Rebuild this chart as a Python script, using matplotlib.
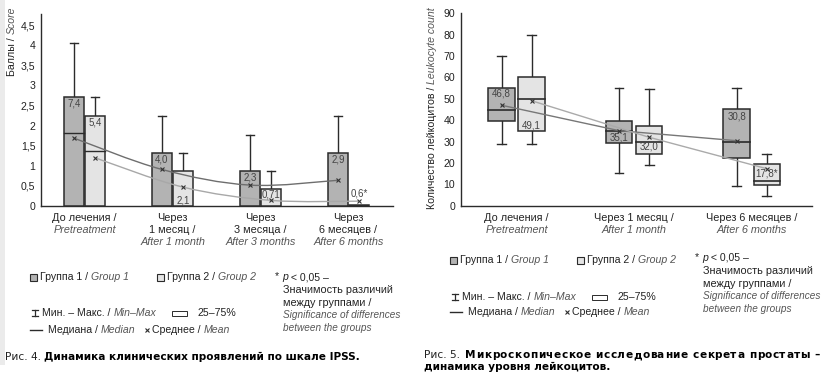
#!/usr/bin/env python3
"""IPSS score and leukocyte count dynamics, two groups."""
import matplotlib
matplotlib.use("Agg")
import matplotlib.pyplot as plt
from matplotlib import font_manager
from matplotlib.patches import Rectangle
from matplotlib.lines import Line2D
from matplotlib.path import Path
from matplotlib.patches import PathPatch

W, H = 826, 387

names = {f.name for f in font_manager.fontManager.ttflist}
FONT = "Liberation Sans Narrow" if "Liberation Sans Narrow" in names else "Liberation Sans"
plt.rcParams["font.family"] = [FONT, "DejaVu Sans"]
CAP_FONT = ["DejaVu Sans"]

G1_COLOR = "#b3b3b3"
G2_COLOR = "#e4e4e4"
EDGE = "#2b2b2b"
TXT = "#222222"
ITAL = "#555555"

# ---- Fig. 4: IPSS score (bars = Q3, lines inside = median, whisker = max)
IPSS_CATS = [("До лечения /", "Pretreatment"),
             ("Через", "1 месяц /", "After 1 month"),
             ("Через", "3 месяца /", "After 3 months"),
             ("Через", "6 месяцев /", "After 6 months")]
IPSS_G1_Q3 = [2.72, 1.33, 0.87, 1.33]
IPSS_G1_MED = [1.82, 0.0, 0.0, 0.0]
IPSS_G1_MAX = [4.05, 2.24, 1.78, 2.24]
IPSS_G1_MEAN = [1.69, 0.91, 0.52, 0.64]
IPSS_G1_LBL = ["7,4", "4,0", "2,3", "2,9"]
IPSS_G2_Q3 = [2.25, 0.87, 0.43, 0.03]
IPSS_G2_MED = [1.36, 0.0, 0.0, 0.0]
IPSS_G2_MAX = [2.71, 1.32, 0.87, 0.03]
IPSS_G2_MEAN = [1.20, 0.47, 0.14, 0.12]
IPSS_G2_LBL = ["5,4", "2,1", "0,71", "0,6*"]
IPSS_G1_LBL_Y = [2.55, 1.17, 0.72, 1.17]
IPSS_G2_LBL_Y = [2.08, 0.14, 0.28, 0.32]
IPSS_YTICKS = [0, 0.5, 1, 1.5, 2, 2.5, 3, 3.5, 4, 4.5]

# ---- Fig. 5: leukocyte count boxplots
LEU_CATS = [("До лечения /", "Pretreatment"),
            ("Через 1 месяц /", "After 1 month"),
            ("Через 6 месяцев /", "After 6 months")]
LEU_G1_MIN = [29, 15.5, 9.4]
LEU_G1_Q1 = [39.5, 29.2, 22.5]
LEU_G1_MED = [45, 35, 29.7]
LEU_G1_Q3 = [55, 39.5, 45.1]
LEU_G1_MAX = [70, 55, 55]
LEU_G1_MEAN = [47, 35.1, 30.4]
LEU_G1_LBL = ["46,8", "35,1", "30,8"]
LEU_G1_LBL_Y = [52.5, 31.8, 41.5]
LEU_G2_MIN = [29, 19.2, 4.5]
LEU_G2_Q1 = [35, 24.3, 9.5]
LEU_G2_MED = [50, 29.7, 11.6]
LEU_G2_Q3 = [60, 37.3, 19.5]
LEU_G2_MAX = [80, 54.4, 24.3]
LEU_G2_MEAN = [49.1, 32, 17.3]
LEU_G2_LBL = ["49,1", "32,0", "17,8*"]
LEU_G2_LBL_Y = [37.5, 27.6, 15.2]
LEU_YTICKS = [0, 10, 20, 30, 40, 50, 60, 70, 80, 90]


def fx(x):
    return x / W


def fy(y):
    return 1 - y / H


def smooth_path(xs, ys):
    # Catmull-Rom through the points, drawn as cubic Bezier segments
    verts = [(xs[0], ys[0])]
    codes = [Path.MOVETO]
    n = len(xs)
    for i in range(n - 1):
        x0, y0 = (xs[i - 1], ys[i - 1]) if i > 0 else (xs[i], ys[i])
        x1, y1 = xs[i], ys[i]
        x2, y2 = xs[i + 1], ys[i + 1]
        x3, y3 = (xs[i + 2], ys[i + 2]) if i + 2 < n else (x2, y2)
        c1 = (x1 + (x2 - x0) / 6, y1 + (y2 - y0) / 6)
        c2 = (x2 - (x3 - x1) / 6, y2 - (y3 - y1) / 6)
        verts += [c1, c2, (x2, y2)]
        codes += [Path.CURVE4] * 3
    return Path(verts, codes)


def rich(fig, x, y, parts, size=7.6, va="center", family=None):
    """Draw consecutive text pieces in pixel coordinates (y from top)."""
    r = fig.canvas.get_renderer()
    for s, style, color, weight in parts:
        kw = {"family": family} if family else {}
        t = fig.text(fx(x), fy(y), s, fontsize=size, style=style, color=color,
                     fontweight=weight, va=va, ha="left", **kw)
        bb = t.get_window_extent(renderer=r)
        x += bb.width
    return x


def justified(fig, x0, x1, y, line, size, family):
    # letter-spaced bold line so that it runs from x0 to x1 (justified caption)
    r = fig.canvas.get_renderer()

    def width(s):
        t = fig.text(0, 0, s, fontsize=size, fontweight="bold", family=family)
        w = t.get_window_extent(renderer=r).width
        t.remove()
        return w

    sp = width("a a") - width("aa")
    widths = [sp if c == " " else width(c) for c in line]
    ls = (x1 - x0 - sum(widths)) / (len(line) - 1)
    x = x0
    for c, w in zip(line, widths):
        if c != " ":
            fig.text(fx(x), fy(y), c, fontsize=size, fontweight="bold", family=family,
                     color="black", va="center", ha="left")
        x += w + ls


def vlabel(fig, x, y_top, ru, en, size=7.6):
    # rotated label reading bottom-to-top, top aligned: italic part sits on top
    r = fig.canvas.get_renderer()
    t = fig.text(fx(x), fy(y_top), en, rotation=90, ha="center", va="top",
                 fontsize=size, style="italic", color=ITAL)
    h = t.get_window_extent(renderer=r).height
    fig.text(fx(x), fy(y_top + h), ru, rotation=90, ha="center", va="top",
             fontsize=size, color=TXT)


def style_axes(ax):
    for s in ["top", "right"]:
        ax.spines[s].set_visible(False)
    for s in ["left", "bottom"]:
        ax.spines[s].set_color(EDGE)
        ax.spines[s].set_linewidth(1.0)
    ax.tick_params(length=0, labelsize=7.6, colors=TXT, pad=4)
    ax.set_xticks([])


def cat_labels(ax, pos, cats):
    h = ax.get_position().height * H
    for x, lines in zip(pos, cats):
        for k, line in enumerate(lines):
            italic = k == len(lines) - 1
            ax.text(x, -(7 + 12 * k) / h, line, transform=ax.get_xaxis_transform(),
                    ha="center", va="top", fontsize=7.8,
                    style="italic" if italic else "normal",
                    color=ITAL if italic else TXT)


def legend_block(fig, x0, y_row1, y_row2, y_row3, x_note, y_note):
    # group squares
    for xs, col, ru, en in [(x0, G1_COLOR, "Группа 1 / ", "Group 1"),
                            (x0 + 127, G2_COLOR, "Группа 2 / ", "Group 2")]:
        fig.patches.append(Rectangle((fx(xs), fy(y_row1 + 3.5)), 7 / W, 7 / H,
                                     transform=fig.transFigure, facecolor=col,
                                     edgecolor=EDGE, linewidth=0.8))
        rich(fig, xs + 10, y_row1, [(ru, "normal", TXT, "normal"),
                                    (en, "italic", ITAL, "normal")])
    # min-max symbol
    xm = x0 + 2
    fig.lines.append(Line2D([fx(xm), fx(xm + 6)], [fy(y_row2 - 3)] * 2,
                            transform=fig.transFigure, color=EDGE, lw=0.9))
    fig.lines.append(Line2D([fx(xm), fx(xm + 6)], [fy(y_row2 + 3)] * 2,
                            transform=fig.transFigure, color=EDGE, lw=0.9))
    fig.lines.append(Line2D([fx(xm + 3)] * 2, [fy(y_row2 - 3), fy(y_row2 + 3)],
                            transform=fig.transFigure, color=EDGE, lw=0.9))
    rich(fig, x0 + 12, y_row2, [("Мин. – Макс. / ", "normal", TXT, "normal"),
                                ("Min–Max", "italic", ITAL, "normal")])
    fig.patches.append(Rectangle((fx(x0 + 142), fy(y_row2 + 3)), 15 / W, 5 / H,
                                 transform=fig.transFigure, facecolor="white",
                                 edgecolor=EDGE, linewidth=0.7))
    rich(fig, x0 + 168, y_row2, [("25–75%", "normal", TXT, "normal")])
    # median / mean
    fig.lines.append(Line2D([fx(x0), fx(x0 + 12)], [fy(y_row3)] * 2,
                            transform=fig.transFigure, color=EDGE, lw=1.0))
    rich(fig, x0 + 18, y_row3, [("Медиана / ", "normal", TXT, "normal"),
                                ("Median", "italic", ITAL, "normal")])
    fig.lines.append(Line2D([fx(x0 + 117)], [fy(y_row3)], transform=fig.transFigure,
                            marker="x", ms=2.2, mew=0.8, color=EDGE, lw=0))
    rich(fig, x0 + 122, y_row3, [("Среднее / ", "normal", TXT, "normal"),
                                 ("Mean", "italic", ITAL, "normal")])
    # significance note
    rich(fig, x_note, y_note, [("* ", "normal", TXT, "normal"),
                               ("p", "italic", TXT, "normal"),
                               (" < 0,05 –", "normal", TXT, "normal")])
    note = [("Значимость различий", "normal", TXT, 7.8),
            ("между группами /", "normal", TXT, 7.8),
            ("Significance of differences", "italic", ITAL, 7.2),
            ("between the groups", "italic", ITAL, 7.2)]
    for k, (s, st, c, sz) in enumerate(note):
        rich(fig, x_note + 8, y_note + 12.8 * (k + 1), [(s, st, c, "normal")], size=sz)


def main():
    fig = plt.figure(figsize=(W / 100, H / 100), dpi=100)
    fig.canvas.draw()
    fig.patches.append(Rectangle((0, fy(365)), 5 / W, 365 / H, transform=fig.transFigure,
                                 facecolor="#ebebeb", edgecolor="none"))

    # ---------------- left chart
    ax = fig.add_axes([fx(41), fy(206), 352 / W, 192 / H])
    style_axes(ax)
    pos = list(range(len(IPSS_CATS)))
    off, bw = 0.12, 0.23
    for i, x in enumerate(pos):
        for dx, col, q3, med, mx in [(-off, G1_COLOR, IPSS_G1_Q3[i], IPSS_G1_MED[i], IPSS_G1_MAX[i]),
                                     (off, G2_COLOR, IPSS_G2_Q3[i], IPSS_G2_MED[i], IPSS_G2_MAX[i])]:
            xc = x + dx
            if mx > q3:
                ax.plot([xc, xc], [q3, mx], color=EDGE, lw=1.0, zorder=2)
                ax.plot([xc - 0.05, xc + 0.05], [mx, mx], color=EDGE, lw=1.0, zorder=2)
            ax.bar(xc, q3, width=bw, color=col, edgecolor=EDGE, linewidth=1.1, zorder=3)
            if med > 0:
                ax.plot([xc - bw / 2, xc + bw / 2], [med, med], color=EDGE, lw=1.0, zorder=4)
    for dx, means, col in [(-off, IPSS_G1_MEAN, "#6e6e6e"), (off, IPSS_G2_MEAN, "#a8a8a8")]:
        xs = [p + dx for p in pos]
        ax.add_patch(PathPatch(smooth_path(xs, means), facecolor="none", edgecolor=col,
                               lw=1.0, zorder=5))
        ax.plot(xs, means, lw=0, marker="x", ms=2.2, mew=0.8, color="#333333", zorder=6)
    for i, x in enumerate(pos):
        ax.text(x - off, IPSS_G1_LBL_Y[i], IPSS_G1_LBL[i], ha="center", va="center",
                fontsize=7, color="#444444", zorder=7)
        ax.text(x + off, IPSS_G2_LBL_Y[i], IPSS_G2_LBL[i], ha="center", va="center",
                fontsize=7, color="#444444", zorder=7)
    ax.set_xlim(-0.494, 3.506)
    ax.set_ylim(0, 4.78)
    ax.set_yticks(IPSS_YTICKS)
    ax.set_yticklabels([f"{v:g}".replace(".", ",") for v in IPSS_YTICKS])
    cat_labels(ax, pos, IPSS_CATS)
    vlabel(fig, 12, 7, "Баллы / ", "Score")

    # ---------------- right chart
    ax2 = fig.add_axes([fx(460.7), fy(205.7), 351 / W, 192.4 / H])
    style_axes(ax2)
    pos2 = list(range(len(LEU_CATS)))
    off2, bw2 = 0.128, 0.225
    for i, x in enumerate(pos2):
        for dx, col, mn, q1, med, q3, mx in [
            (-off2, G1_COLOR, LEU_G1_MIN[i], LEU_G1_Q1[i], LEU_G1_MED[i], LEU_G1_Q3[i], LEU_G1_MAX[i]),
            (off2, G2_COLOR, LEU_G2_MIN[i], LEU_G2_Q1[i], LEU_G2_MED[i], LEU_G2_Q3[i], LEU_G2_MAX[i]),
        ]:
            xc = x + dx
            ax2.plot([xc, xc], [mn, q1], color=EDGE, lw=1.0, zorder=2)
            ax2.plot([xc, xc], [q3, mx], color=EDGE, lw=1.0, zorder=2)
            for v in (mn, mx):
                ax2.plot([xc - 0.037, xc + 0.037], [v, v], color=EDGE, lw=1.0, zorder=2)
            ax2.bar(xc, q3 - q1, bottom=q1, width=bw2, color=col, edgecolor=EDGE,
                    linewidth=1.1, zorder=3)
            ax2.plot([xc - bw2 / 2, xc + bw2 / 2], [med, med], color=EDGE, lw=1.2, zorder=4)
    for dx, means, col in [(-off2, LEU_G1_MEAN, "#777777"), (off2, LEU_G2_MEAN, "#aaaaaa")]:
        xs = [p + dx for p in pos2]
        ax2.plot(xs, means, color=col, lw=1.0, zorder=5)
        ax2.plot(xs, means, lw=0, marker="x", ms=2.2, mew=0.8, color="#333333", zorder=6)
    for i, x in enumerate(pos2):
        ax2.text(x - off2, LEU_G1_LBL_Y[i], LEU_G1_LBL[i], ha="center", va="center",
                 fontsize=7, color="#444444", zorder=7)
        ax2.text(x + off2, LEU_G2_LBL_Y[i], LEU_G2_LBL[i], ha="center", va="center",
                 fontsize=7, color="#444444", zorder=7)
    ax2.set_xlim(-0.475, 2.51)
    ax2.set_ylim(0, 90)
    ax2.set_yticks(LEU_YTICKS)
    cat_labels(ax2, pos2, LEU_CATS)
    vlabel(fig, 432, 7, "Количество лейкоцитов / ", "Leukocyte count")

    # ---------------- legends and captions
    legend_block(fig, 30, 277, 313, 330, 275, 277)
    legend_block(fig, 450, 260, 297, 312, 695, 258)
    rich(fig, 5, 357, [("Рис. 4. ", "normal", TXT, "normal"),
                       ("Динамика клинических проявлений по шкале IPSS.", "normal", "black", "bold")],
         size=7.6, family=CAP_FONT)
    x_b = rich(fig, 424, 355, [("Рис. 5. ", "normal", TXT, "normal")], size=7.6,
               family=CAP_FONT)
    justified(fig, x_b + 2, 820, 355,
              "Микроскопическое исследование секрета простаты –", 7.6, CAP_FONT)
    rich(fig, 424, 367, [("динамика уровня лейкоцитов.", "normal", "black", "bold")],
         size=7.6, family=CAP_FONT)

    fig.savefig("out.png", dpi=100)


if __name__ == "__main__":
    main()
